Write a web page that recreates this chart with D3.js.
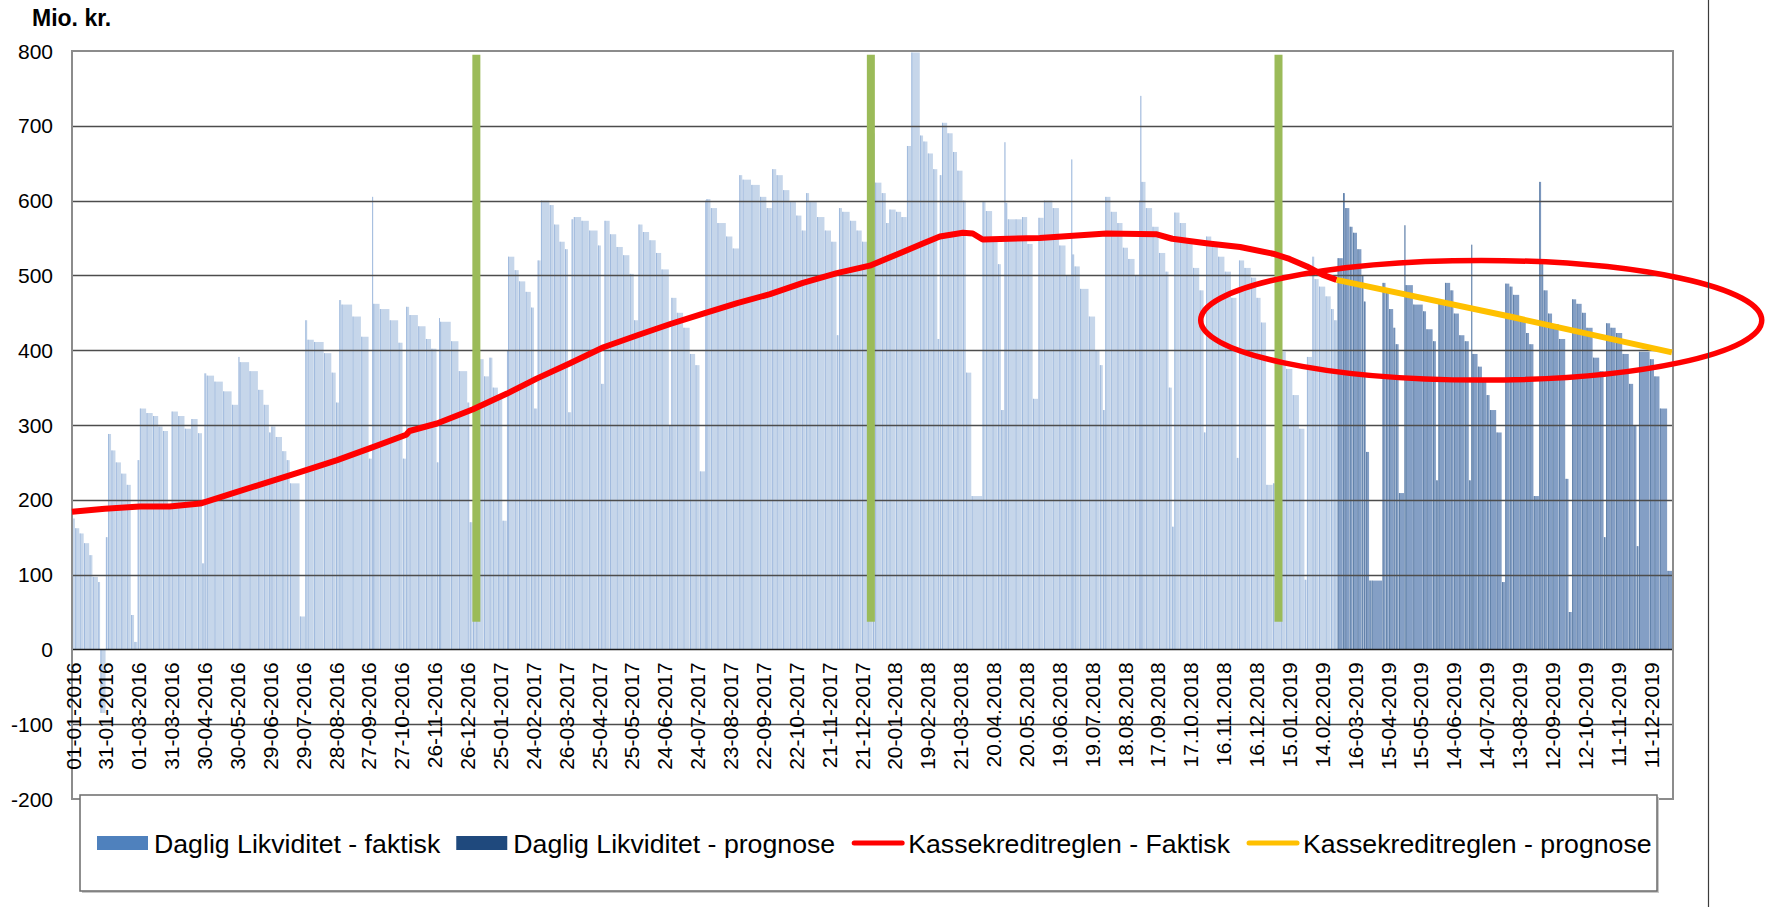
<!DOCTYPE html>
<html>
<head>
<meta charset="utf-8">
<script src="https://cdn.jsdelivr.net/npm/d3@7"></script>
<style>
    body { margin: 0; background: #ffffff; }
    text { font-family: "Liberation Sans", Arial, sans-serif; fill: #000; }
</style>
</head>
<body>
<div id="grafico"></div>
<script>
// daglig likviditet - faktisk (startdato for perioden, mio. kr.)
const faktisk = [
    ["2016-01-01",175],["2016-01-04",162],["2016-01-08",155],["2016-01-12",142],["2016-01-17",126],["2016-01-20",97],["2016-01-25",90],["2016-01-27",-85],
    ["2016-02-01",150],["2016-02-03",288],["2016-02-06",266],["2016-02-10",250],["2016-02-15",235],["2016-02-20",220],["2016-02-24",46],["2016-02-27",10],
    ["2016-03-01",253],["2016-03-03",322],["2016-03-09",316],["2016-03-15",312],["2016-03-20",298],["2016-03-24",292],["2016-03-29",191],
    ["2016-04-01",318],["2016-04-07",312],["2016-04-13",295],["2016-04-19",308],["2016-04-25",289],["2016-04-29",115],
    ["2016-05-01",369],["2016-05-03",366],["2016-05-10",358],["2016-05-18",345],["2016-05-26",327],
    ["2016-06-01",391],["2016-06-02",384],["2016-06-11",372],["2016-06-19",347],["2016-06-24",327],["2016-06-29",290],
    ["2016-07-01",298],["2016-07-05",284],["2016-07-11",265],["2016-07-15",253],["2016-07-18",222],["2016-07-27",44],
    ["2016-08-01",440],["2016-08-03",414],["2016-08-09",411],["2016-08-18",396],["2016-08-25",370],["2016-08-29",330],
    ["2016-09-01",467],["2016-09-03",461],["2016-09-13",445],["2016-09-21",418],["2016-09-28",255],
    ["2016-10-01",605],["2016-10-02",462],["2016-10-08",455],["2016-10-17",440],["2016-10-25",410],["2016-10-29",255],
    ["2016-11-01",458],["2016-11-04",447],["2016-11-12",432],["2016-11-19",415],["2016-11-24",402],["2016-11-29",250],
    ["2016-12-01",443],["2016-12-02",438],["2016-12-12",412],["2016-12-19",372],["2016-12-27",330],["2016-12-29",170],
    ["2017-01-01",175],["2017-01-04",388],["2017-01-11",365],["2017-01-16",390],["2017-01-19",350],["2017-01-24",335],["2017-01-28",172],
    ["2017-02-01",400],["2017-02-02",525],["2017-02-08",507],["2017-02-12",492],["2017-02-18",478],["2017-02-23",457],["2017-02-26",322],
    ["2017-03-01",520],["2017-03-04",600],["2017-03-12",594],["2017-03-16",568],["2017-03-21",545],["2017-03-26",535],["2017-03-29",317],
    ["2017-04-01",575],["2017-04-03",578],["2017-04-10",573],["2017-04-17",560],["2017-04-25",540],["2017-04-28",355],
    ["2017-05-01",573],["2017-05-06",555],["2017-05-12",538],["2017-05-18",527],["2017-05-24",502],["2017-05-28",440],
    ["2017-06-01",568],["2017-06-05",558],["2017-06-11",547],["2017-06-17",530],["2017-06-22",508],["2017-06-29",300],
    ["2017-07-01",470],["2017-07-06",450],["2017-07-12",430],["2017-07-18",395],["2017-07-23",380],["2017-07-27",238],
    ["2017-08-01",600],["2017-08-02",602],["2017-08-06",590],["2017-08-12",570],["2017-08-20",552],["2017-08-26",536],
    ["2017-09-01",634],["2017-09-04",628],["2017-09-12",621],["2017-09-20",605],["2017-09-26",590],
    ["2017-10-01",642],["2017-10-05",634],["2017-10-11",614],["2017-10-17",598],["2017-10-23",580],["2017-10-28",560],
    ["2017-11-01",610],["2017-11-04",598],["2017-11-11",578],["2017-11-18",560],["2017-11-24",545],["2017-11-29",420],
    ["2017-12-01",590],["2017-12-04",585],["2017-12-11",573],["2017-12-17",560],["2017-12-22",545],["2017-12-27",520],
    ["2018-01-01",690],["2018-01-03",624],["2018-01-09",610],["2018-01-13",570],["2018-01-16",588],["2018-01-22",585],["2018-01-27",578],
    ["2018-02-01",673],["2018-02-05",798],["2018-02-13",687],["2018-02-16",679],["2018-02-20",663],["2018-02-25",642],
    ["2018-03-01",415],["2018-03-03",634],["2018-03-05",704],["2018-03-10",690],["2018-03-15",665],["2018-03-19",640],["2018-03-24",600],["2018-03-27",370],
    ["2018-04-01",205],["2018-04-11",598],["2018-04-14",586],["2018-04-20",550],["2018-04-25",515],["2018-04-28",320],
    ["2018-05-01",678],["2018-05-02",597],["2018-05-04",575],["2018-05-11",575],["2018-05-17",578],["2018-05-22",542],["2018-05-27",335],
    ["2018-06-01",577],["2018-06-06",600],["2018-06-14",590],["2018-06-20",540],["2018-06-26",500],
    ["2018-07-01",655],["2018-07-02",528],["2018-07-04",512],["2018-07-09",482],["2018-07-17",445],["2018-07-23",400],["2018-07-27",380],["2018-07-30",320],
    ["2018-08-01",605],["2018-08-06",585],["2018-08-12",570],["2018-08-17",537],["2018-08-22",522],["2018-08-28",500],
    ["2018-09-01",600],["2018-09-02",740],["2018-09-03",625],["2018-09-07",590],["2018-09-13",565],["2018-09-19",530],["2018-09-25",505],["2018-09-28",350],
    ["2018-10-01",164],["2018-10-03",584],["2018-10-08",570],["2018-10-14",545],["2018-10-20",510],["2018-10-26",480],["2018-10-30",290],
    ["2018-11-01",552],["2018-11-06",540],["2018-11-12",525],["2018-11-18",505],["2018-11-24",470],["2018-11-29",256],
    ["2018-12-01",520],["2018-12-06",510],["2018-12-12",497],["2018-12-17",470],["2018-12-21",437],["2018-12-26",220],
    ["2019-01-01",222],["2019-01-08",398],["2019-01-13",375],["2019-01-19",340],["2019-01-25",295],["2019-01-30",93],
    ["2019-02-01",391],["2019-02-06",525],["2019-02-08",495],["2019-02-12",485],["2019-02-18",472],["2019-02-23",455],["2019-02-26",440]
];

// daglig likviditet - prognose
const prognose = [
    ["2019-03-01",523],["2019-03-06",610],["2019-03-08",590],["2019-03-12",565],["2019-03-15",557],["2019-03-19",535],["2019-03-23",500],["2019-03-25",465],["2019-03-27",264],["2019-03-30",92],
    ["2019-04-01",92],["2019-04-11",490],["2019-04-14",478],["2019-04-17",455],["2019-04-21",430],["2019-04-23",408],["2019-04-26",209],
    ["2019-05-01",567],["2019-05-02",487],["2019-05-09",461],["2019-05-18",452],["2019-05-21",428],["2019-05-27",412],["2019-05-30",226],
    ["2019-06-01",462],["2019-06-07",490],["2019-06-12",480],["2019-06-15",449],["2019-06-20",420],["2019-06-25",412],["2019-06-29",226],
    ["2019-07-01",541],["2019-07-02",395],["2019-07-07",378],["2019-07-11",360],["2019-07-15",340],["2019-07-18",320],["2019-07-24",290],["2019-07-29",90],
    ["2019-08-01",489],["2019-08-05",485],["2019-08-08",474],["2019-08-14",440],["2019-08-20",423],["2019-08-23",408],["2019-08-27",205],
    ["2019-09-01",625],["2019-09-03",515],["2019-09-05",480],["2019-09-09",449],["2019-09-13",435],["2019-09-19",415],["2019-09-25",228],["2019-09-28",50],
    ["2019-10-01",468],["2019-10-05",462],["2019-10-10",450],["2019-10-14",430],["2019-10-20",390],["2019-10-26",372],["2019-10-30",150],
    ["2019-11-01",436],["2019-11-05",430],["2019-11-10",423],["2019-11-16",395],["2019-11-22",355],["2019-11-26",300],["2019-11-29",138],
    ["2019-12-01",398],["2019-12-11",388],["2019-12-15",365],["2019-12-20",322],["2019-12-27",105]
];

// kassekreditreglen
const kassekreditFaktisk = [
    ["2016-01-01",184],["2016-01-31",188],["2016-03-03",191],["2016-03-30",191],["2016-04-27",195],["2016-05-27",209],
    ["2016-06-20",220],["2016-07-27",237],["2016-08-30",253],["2016-10-01",270],["2016-11-01",287],["2016-11-04",292],
    ["2016-11-29",302],["2017-01-01",321],["2017-02-01",342],["2017-02-28",362],["2017-03-31",383],["2017-04-30",404],
    ["2017-05-31",420],["2017-06-30",435],["2017-07-30",449],["2017-08-30",463],["2017-09-29",475],["2017-10-29",490],
    ["2017-11-29",503],["2017-12-29",513],["2018-01-26",530],["2018-02-16",543],["2018-03-03",552],["2018-03-24",557],
    ["2018-04-02",556],["2018-04-11",548],["2018-06-02",550],["2018-08-02",556],["2018-09-17",555],["2018-10-01",549],
    ["2018-11-01",543],["2018-12-02",538],["2019-01-01",529],["2019-01-16",522],["2019-02-01",512],["2019-02-15",501],
    ["2019-02-28",494]
];
const kassekreditPrognose = [["2019-02-28",494],["2019-08-05",445],["2019-12-31",397]];

// groenne markeringer ved aarsskift og den roede ring
const groenneDatoer = ["2017-01-04", "2017-12-30", "2019-01-06"];
const groenFra = 37, groenTil = 795;
const ring = { dato: "2019-07-10", vaerdi: 440, dageRadius: 256, vaerdiRadius: 80 };

const yTicks = [-200, -100, 0, 100, 200, 300, 400, 500, 600, 700, 800];
const xLabels = ["01-01-2016","31-01-2016","01-03-2016","31-03-2016","30-04-2016","30-05-2016","29-06-2016","29-07-2016",
    "28-08-2016","27-09-2016","27-10-2016","26-11-2016","26-12-2016","25-01-2017","24-02-2017","26-03-2017","25-04-2017",
    "25-05-2017","24-06-2017","24-07-2017","23-08-2017","22-09-2017","22-10-2017","21-11-2017","21-12-2017","20-01-2018",
    "19-02-2018","21-03-2018","20.04.2018","20.05.2018","19.06.2018","19.07.2018","18.08.2018","17.09.2018","17.10.2018",
    "16.11.2018","16.12.2018","15.01.2019","14.02.2019","16-03-2019","15-04-2019","15-05-2019","14-06-2019","14-07-2019",
    "13-08-2019","12-09-2019","12-10-2019","11-11-2019","11-12-2019"];
const legendNavne = ["Daglig Likviditet - faktisk", "Daglig Likviditet - prognose", "Kassekreditreglen - Faktisk", "Kassekreditreglen - prognose"];

const W = 1773, H = 907;
const plot = { left: 72, right: 1673, top: 51, bottom: 799 };

const parseDato = d3.timeParse("%Y-%m-%d");
const parseLabel = s => d3.timeParse("%d-%m-%Y")(s.replace(/\./g, "-"));
const start = new Date(2016, 0, 1), slut = new Date(2020, 0, 1);

const x = d3.scaleTime().domain([start, slut]).range([plot.left, plot.right]);
const y = d3.scaleLinear().domain([-200, 800]).range([plot.bottom, plot.top]);

const svg = d3.select("#grafico").append("svg")
    .attr("width", W)
    .attr("height", H);

// perioder: hver vaerdi gaelder til naeste dato
function perioder(data, slutDato) {
    return data.map((d, i) => ({
        fra: parseDato(d[0]),
        til: i < data.length - 1 ? parseDato(data[i + 1][0]) : slutDato,
        v: d[1]
    }));
}

function tegnSoejler(data, slutDato, fyld, kant) {
    let p = perioder(data, slutDato);
    let g = svg.append("g");
    g.selectAll("rect")
        .data(p)
        .enter()
        .append("rect")
        .attr("x", d => x(d.fra))
        .attr("width", d => Math.max(0.8, x(d.til) - x(d.fra) - 0.4))
        .attr("y", d => y(Math.max(0, d.v)))
        .attr("height", d => Math.abs(y(d.v) - y(0)))
        .style("fill", fyld);
    g.selectAll("line")
        .data(p)
        .enter()
        .append("line")
        .attr("x1", d => x(d.fra) + 0.4)
        .attr("x2", d => x(d.fra) + 0.4)
        .attr("y1", y(0))
        .attr("y2", d => y(d.v))
        .style("stroke", kant)
        .style("stroke-width", 0.8);
}

tegnSoejler(faktisk, parseDato("2019-03-01"), "#c6d6ea", "#94b1d9");
tegnSoejler(prognose, slut, "#849fc5", "#56779f");

// gitterlinjer
svg.append("g")
    .selectAll("line")
    .data(yTicks.filter(t => t > -200 && t < 800))
    .enter()
    .append("line")
    .attr("x1", plot.left)
    .attr("x2", plot.right)
    .attr("y1", d => Math.round(y(d)) + 0.5)
    .attr("y2", d => Math.round(y(d)) + 0.5)
    .style("stroke", d => d === 0 ? "#1a1a1a" : "#4d4d4d")
    .style("stroke-width", 1.3);

// plotramme
svg.append("rect")
    .attr("x", plot.left)
    .attr("y", plot.top)
    .attr("width", plot.right - plot.left)
    .attr("height", plot.bottom - plot.top)
    .style("fill", "none")
    .style("stroke", "#8c8c8c")
    .style("stroke-width", 2);

// y-akse
svg.append("g")
    .selectAll("text")
    .data(yTicks)
    .enter()
    .append("text")
    .attr("x", 53)
    .attr("y", d => y(d))
    .attr("dy", "0.36em")
    .style("text-anchor", "end")
    .style("font-size", "21px")
    .text(d => d);

svg.append("text")
    .attr("x", 32)
    .attr("y", 26)
    .style("font-size", "23px")
    .style("font-weight", "bold")
    .text("Mio. kr.");

// x-akse datoer
svg.append("g")
    .selectAll("text")
    .data(xLabels)
    .enter()
    .append("text")
    .attr("transform", d => "translate(" + (x(parseLabel(d)) + 1) + "," + (y(0) + 13) + ") rotate(-90)")
    .attr("dy", "0.36em")
    .style("text-anchor", "end")
    .style("font-size", "21px")
    .text(d => d);

// groenne markeringer
svg.append("g")
    .selectAll("rect")
    .data(groenneDatoer)
    .enter()
    .append("rect")
    .attr("x", d => x(parseDato(d)) - 4)
    .attr("width", 8)
    .attr("y", y(groenTil))
    .attr("height", y(groenFra) - y(groenTil))
    .style("fill", "#9bbb59");

// kassekreditreglen
let linje = d3.line()
    .x(d => x(parseDato(d[0])))
    .y(d => y(d[1]));

svg.append("path")
    .attr("d", linje(kassekreditFaktisk))
    .style("fill", "none")
    .style("stroke", "#ff0000")
    .style("stroke-width", 6)
    .style("stroke-linejoin", "round");

svg.append("path")
    .attr("d", linje(kassekreditPrognose))
    .style("fill", "none")
    .style("stroke", "#ffc000")
    .style("stroke-width", 6)
    .style("stroke-linejoin", "round");

// roed ring om prognosen
let ringDato = parseDato(ring.dato);
let cx = x(ringDato);
svg.append("ellipse")
    .attr("cx", cx)
    .attr("cy", y(ring.vaerdi))
    .attr("rx", x(d3.timeDay.offset(ringDato, ring.dageRadius)) - cx)
    .attr("ry", y(ring.vaerdi - ring.vaerdiRadius) - y(ring.vaerdi))
    .style("fill", "none")
    .style("stroke", "#ff0000")
    .style("stroke-width", 5.5);

// legende
svg.append("rect")
    .attr("x", 82)
    .attr("y", 797)
    .attr("width", 1577)
    .attr("height", 96)
    .style("fill", "#c8c8c8");
svg.append("rect")
    .attr("x", 80)
    .attr("y", 795)
    .attr("width", 1577)
    .attr("height", 96)
    .style("fill", "#ffffff")
    .style("stroke", "#6b6b6b")
    .style("stroke-width", 1.5);

const legY = 843;
let lx = 97;
legendNavne.forEach((navn, i) => {
    if (i < 2) {
        svg.append("rect")
            .attr("x", lx)
            .attr("y", legY - 7)
            .attr("width", 51)
            .attr("height", 14)
            .style("fill", i === 0 ? "#4f81bd" : "#1f497d");
    } else {
        svg.append("line")
            .attr("x1", lx + 3)
            .attr("x2", lx + 51)
            .attr("y1", legY)
            .attr("y2", legY)
            .style("stroke", i === 2 ? "#ff0000" : "#ffc000")
            .style("stroke-width", 5)
            .style("stroke-linecap", "round");
    }
    let t = svg.append("text")
        .attr("x", lx + 57)
        .attr("y", legY)
        .attr("dy", "0.36em")
        .style("font-size", "26.7px")
        .text(navn);
    lx = lx + 57 + t.node().getComputedTextLength() + 16;
});

// lodret linje i hoejre side
svg.append("line")
    .attr("x1", 1708.5)
    .attr("x2", 1708.5)
    .attr("y1", 0)
    .attr("y2", H)
    .style("stroke", "#3c3c3c")
    .style("stroke-width", 1.2);
</script>
</body>
</html>
